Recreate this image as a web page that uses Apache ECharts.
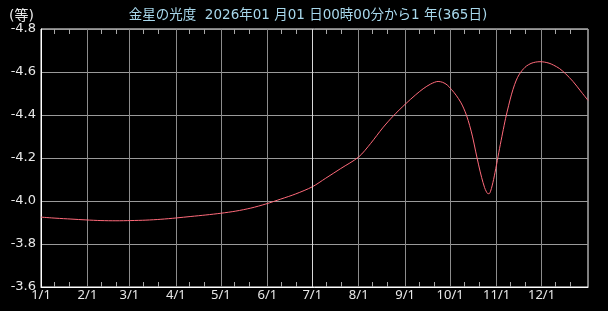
<!DOCTYPE html>
<html>
<head>
<meta charset="utf-8">
<script src="https://cdn.jsdelivr.net/npm/echarts@6/dist/echarts.min.js"></script>
<style>
html,body{margin:0;padding:0;background:#000;}
#c{width:608px;height:311px;}
</style>
</head>
<body>
<div id="c"></div>
<script>
var titleText = '金星の光度  2026年01 月01 日00時00分から1 年(365日)';
var unitText = '(等)';
var monthStarts = [0, 31, 59, 90, 120, 151, 181, 212, 243, 273, 304, 334];
var monthLabels = ['1/1','2/1','3/1','4/1','5/1','6/1','7/1','8/1','9/1','10/1','11/1','12/1'];
var yTicks = [-4.8, -4.6, -4.4, -4.2, -4.0, -3.8, -3.6];
var days = [0, 10, 20, 30, 40, 50, 60, 70, 80, 90, 100, 110, 120, 130, 140, 150, 160, 170, 181, 190, 200, 212, 220, 228, 235, 243, 250, 255, 260, 265, 268, 271, 274, 277, 280, 282, 284, 286, 288, 290, 292, 294, 296, 297, 298, 299, 300, 301, 302, 303, 304, 305, 306, 308, 310, 312, 314, 316, 318, 320, 322, 324, 327, 330, 333, 336, 339, 342, 346, 350, 355, 360, 365];
var mags = [-3.925, -3.920, -3.916, -3.912, -3.909, -3.908, -3.909, -3.911, -3.915, -3.921, -3.928, -3.935, -3.943, -3.953, -3.967, -3.986, -4.009, -4.033, -4.066, -4.106, -4.151, -4.205, -4.268, -4.340, -4.395, -4.450, -4.494, -4.522, -4.544, -4.556, -4.552, -4.540, -4.518, -4.492, -4.460, -4.432, -4.397, -4.352, -4.298, -4.232, -4.168, -4.110, -4.062, -4.046, -4.035, -4.034, -4.046, -4.070, -4.100, -4.134, -4.170, -4.208, -4.245, -4.316, -4.384, -4.443, -4.497, -4.541, -4.575, -4.598, -4.615, -4.628, -4.640, -4.646, -4.648, -4.646, -4.641, -4.632, -4.616, -4.592, -4.556, -4.512, -4.468];

var minorDays = [];
monthStarts.forEach(function (d) { minorDays.push(d + 9, d + 19); });
var pts = days.map(function (d, i) { return [d, mags[i]]; });
var yMin = yTicks[0], yMax = yTicks[yTicks.length - 1];

var fontNum = '"DejaVu Sans", "Noto Sans CJK JP", sans-serif';
var fontX = '"Noto Sans", "DejaVu Sans", sans-serif';
var tickLen = 5;
function renderMinorTick(params, api) {
  var d = api.value(0);
  var b = api.coord([d, yMax]);
  var t = api.coord([d, yMin]);
  var x = Math.round(b[0]) + 0.5;
  var st = {stroke: '#a8a8a8', lineWidth: 1, fill: null};
  return {type: 'group', children: [
    {type: 'line', shape: {x1: x, y1: b[1], x2: x, y2: b[1] - tickLen}, style: st},
    {type: 'line', shape: {x1: x, y1: t[1], x2: x, y2: t[1] + tickLen}, style: st}
  ]};
}
var chart = echarts.init(document.getElementById('c'), null, {renderer: 'canvas'});
chart.setOption({
  backgroundColor: '#000',
  animation: false,
  title: [
    {text: titleText, left: 303, top: 4, textAlign: 'center',
     textStyle: {color: '#a8d8ec', fontSize: 13.5, fontWeight: 'normal', fontFamily: fontNum}},
    {text: unitText, left: 4, top: 4,
     textStyle: {color: '#e8e8e8', fontSize: 14, fontWeight: 'normal', fontFamily: fontNum}}
  ],
  grid: {left: 41, right: 20, top: 29, bottom: 24, show: true, borderColor: '#ffffff', borderWidth: 1, backgroundColor: 'transparent'},
  xAxis: {type: 'value', min: 0, max: 365, position: 'bottom',
     axisLine: {show: true, lineStyle: {color: '#ffffff'}},
     axisTick: {show: false, customValues: monthStarts},
     axisLabel: {customValues: monthStarts, color: '#e8e8e8', fontSize: 13, fontFamily: fontX, margin: 2,
       formatter: function (v) { var i = monthStarts.indexOf(Math.round(v)); return i >= 0 ? monthLabels[i] : ''; }},
     splitLine: {show: true, lineStyle: {color: '#8c8c8c', width: 1}}},
  yAxis: {type: 'value', inverse: true, min: yMin, max: yMax, interval: 0.2,
    axisLine: {show: true, lineStyle: {color: '#ffffff'}},
    axisTick: {show: false},
    axisLabel: {color: '#e8e8e8', fontSize: 13, fontFamily: fontNum, margin: 5,
      customValues: yTicks,
      formatter: function (v) { return v.toFixed(1); }},
    splitLine: {show: true, lineStyle: {color: '#9a9a9a', width: 1}}},
  series: [
    {type: 'custom', coordinateSystem: 'cartesian2d', silent: true,
     data: minorDays.map(function (d) { return [d, yMax]; }),
     encode: {x: 0, y: 1}, renderItem: renderMinorTick, clip: false, z: 5},
    {type: 'line', data: pts, smooth: 0.3, symbol: 'none',
     lineStyle: {color: '#ff6a7a', width: 1}, z: 3,
     markLine: {silent: true, symbol: 'none', label: {show: false},
       lineStyle: {color: '#d8d8d8', type: 'solid', width: 1},
       data: [{xAxis: monthStarts[6]}]}}
  ]
});
</script>
</body>
</html>
